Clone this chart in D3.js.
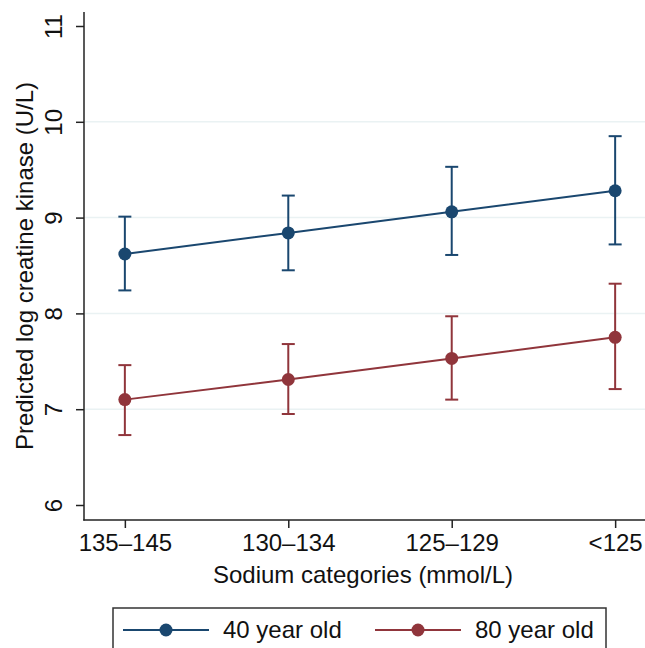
<!DOCTYPE html>
<html>
<head>
<meta charset="utf-8">
<script src="https://cdn.jsdelivr.net/npm/d3@7"></script>
<style>
  body { margin: 0; background: #fff; }
  svg { display: block; font-family: "Liberation Sans", Arial, sans-serif; }
</style>
</head>
<body>
<svg id="chart" width="645" height="648"></svg>
<script>
// sodium categories on the x axis
var categories = ["135\u2013145", "130\u2013134", "125\u2013129", "<125"];
var yTicks = [6, 7, 8, 9, 10, 11];
var gridTicks = [7, 8, 9, 10];

// predicted values and 95% CI, one array per series
var age40 = [8.62, 8.84, 9.06, 9.28];
var age40Lo = [8.24, 8.45, 8.61, 8.72];
var age40Hi = [9.01, 9.23, 9.53, 9.85];

var age80 = [7.10, 7.31, 7.53, 7.75];
var age80Lo = [6.73, 6.95, 7.10, 7.21];
var age80Hi = [7.46, 7.68, 7.97, 8.31];

var seriesNames = ["40 year old", "80 year old"];
var seriesColors = ["#1a476f", "#90353b"];

var svg = d3.select("#chart");

var x = d3.scaleLinear().domain([0.75, 4.25]).range([84, 656]);
var y = d3.scaleLinear().domain([6, 11]).range([505, 26]);

// grid lines
svg.append("g")
    .selectAll("line")
    .data(gridTicks)
    .enter().append("line")
      .attr("x1", 85)
      .attr("x2", 645)
      .attr("y1", function(d) { return y(d); })
      .attr("y2", function(d) { return y(d); })
      .attr("stroke", "#eaf2f3")
      .attr("stroke-width", 1.5);

// y axis
var yAxis = svg.append("g")
    .attr("transform", "translate(84,0)")
    .call(d3.axisLeft(y).tickValues(yTicks).tickSize(8).tickFormat(d3.format("d")));
yAxis.select(".domain").remove();
yAxis.selectAll(".tick line").attr("stroke", "#222").attr("stroke-width", 1.5);
yAxis.selectAll(".tick text").remove();
yAxis.selectAll(".tick").append("text")
    .attr("transform", "translate(-22,0) rotate(-90)")
    .attr("text-anchor", "middle")
    .attr("fill", "#111")
    .attr("font-size", 24)
    .text(function(d) { return d; });
svg.append("line")
    .attr("x1", 84).attr("x2", 84)
    .attr("y1", 12).attr("y2", 520.5)
    .attr("stroke", "#222").attr("stroke-width", 1.5);

// x axis
var xAxis = svg.append("g")
    .attr("transform", "translate(0,520)")
    .call(d3.axisBottom(x).tickValues([1, 2, 3, 4]).tickSize(8)
      .tickFormat(function(d, i) { return categories[i]; }));
xAxis.select(".domain").remove();
xAxis.selectAll(".tick line").attr("stroke", "#222").attr("stroke-width", 1.5);
xAxis.selectAll(".tick text")
    .attr("font-size", 24)
    .attr("font-family", "Liberation Sans, Arial, sans-serif")
    .attr("fill", "#111")
    .attr("y", 14)
    .attr("dy", "0.71em");
svg.append("line")
    .attr("x1", 83.25).attr("x2", 645)
    .attr("y1", 520).attr("y2", 520)
    .attr("stroke", "#222").attr("stroke-width", 1.5);

// axis titles
svg.append("text")
    .attr("transform", "translate(33,266) rotate(-90)")
    .attr("text-anchor", "middle")
    .attr("font-size", 24)
    .attr("fill", "#111")
    .text("Predicted log creatine kinase (U/L)");
svg.append("text")
    .attr("x", 363)
    .attr("y", 583)
    .attr("text-anchor", "middle")
    .attr("font-size", 24)
    .attr("fill", "#111")
    .text("Sodium categories (mmol/L)");

var line = d3.line()
    .x(function(d, i) { return x(i + 1); })
    .y(function(d) { return y(d); });

function drawSeries(vals, lo, hi, color) {
  var g = svg.append("g");
  // error bars
  vals.forEach(function(v, i) {
    var cx = x(i + 1);
    g.append("line")
      .attr("x1", cx).attr("x2", cx)
      .attr("y1", y(lo[i])).attr("y2", y(hi[i]))
      .attr("stroke", color).attr("stroke-width", 2);
    [lo[i], hi[i]].forEach(function(c) {
      g.append("line")
        .attr("x1", cx - 6.5).attr("x2", cx + 6.5)
        .attr("y1", y(c)).attr("y2", y(c))
        .attr("stroke", color).attr("stroke-width", 2);
    });
  });
  g.append("path")
    .datum(vals)
    .attr("d", line)
    .attr("fill", "none")
    .attr("stroke", color)
    .attr("stroke-width", 2);
  g.selectAll("circle")
    .data(vals)
    .enter().append("circle")
      .attr("cx", function(d, i) { return x(i + 1); })
      .attr("cy", function(d) { return y(d); })
      .attr("r", 6.5)
      .attr("fill", color);
}

drawSeries(age40, age40Lo, age40Hi, seriesColors[0]);
drawSeries(age80, age80Lo, age80Hi, seriesColors[1]);

// legend
var legend = svg.append("g");
legend.append("rect")
    .attr("x", 113).attr("y", 608)
    .attr("width", 493).attr("height", 60)
    .attr("fill", "#fff")
    .attr("stroke", "#333").attr("stroke-width", 1.5);

var legendX = [123, 375];
seriesNames.forEach(function(name, i) {
  var lx = legendX[i];
  legend.append("line")
    .attr("x1", lx).attr("x2", lx + 86)
    .attr("y1", 630).attr("y2", 630)
    .attr("stroke", seriesColors[i]).attr("stroke-width", 2);
  legend.append("circle")
    .attr("cx", lx + 43).attr("cy", 630)
    .attr("r", 6.5)
    .attr("fill", seriesColors[i]);
  legend.append("text")
    .attr("x", lx + 100)
    .attr("y", 630)
    .attr("dy", "0.35em")
    .attr("font-size", 24)
    .attr("fill", "#111")
    .text(name);
});
</script>
</body>
</html>
